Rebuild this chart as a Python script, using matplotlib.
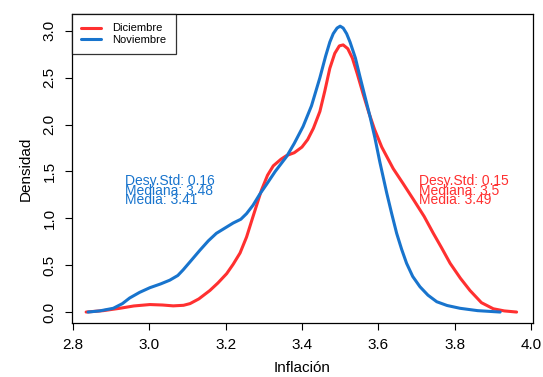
import matplotlib
matplotlib.use("Agg")
import matplotlib.pyplot as plt

plt.rcParams["font.family"] = ["Liberation Sans", "DejaVu Sans"]

# Densidades (inflacion, densidad)
dic_x = [2.835, 2.88, 2.923, 2.96, 3.002, 3.035, 3.063, 3.09, 3.107, 3.13, 3.159, 3.18,
         3.203, 3.22, 3.238, 3.255, 3.272, 3.294, 3.31, 3.325, 3.345, 3.36, 3.38,
         3.40, 3.415, 3.43, 3.447, 3.46, 3.473, 3.486, 3.498, 3.508, 3.52, 3.532,
         3.545, 3.56, 3.575, 3.59, 3.609, 3.622, 3.639, 3.665, 3.692, 3.72, 3.744,
         3.765, 3.788, 3.815, 3.84, 3.87, 3.901, 3.93, 3.962]
dic_y = [0.0, 0.015, 0.04, 0.065, 0.08, 0.075, 0.066, 0.072, 0.09, 0.14, 0.23, 0.31,
         0.41, 0.51, 0.63, 0.8, 1.02, 1.3, 1.46, 1.56, 1.63, 1.67, 1.70,
         1.76, 1.84, 1.96, 2.14, 2.36, 2.6, 2.76, 2.84, 2.85, 2.81, 2.71,
         2.54, 2.33, 2.13, 1.95, 1.76, 1.66, 1.53, 1.37, 1.2, 1.02, 0.84,
         0.69, 0.52, 0.36, 0.23, 0.1, 0.035, 0.012, 0.0]

nov_x = [2.84, 2.87, 2.906, 2.93, 2.949, 2.975, 3.002, 3.03, 3.054, 3.075, 3.089,
         3.11, 3.133, 3.155, 3.176, 3.2, 3.22, 3.24, 3.255, 3.272, 3.29, 3.307,
         3.33, 3.36, 3.38, 3.403, 3.425, 3.447, 3.462, 3.473, 3.482, 3.492, 3.50,
         3.508, 3.517, 3.526, 3.54, 3.552, 3.565, 3.578, 3.591, 3.604, 3.622, 3.635,
         3.648, 3.661, 3.674, 3.69, 3.709, 3.73, 3.753, 3.78, 3.814, 3.86, 3.919]
nov_y = [0.0, 0.012, 0.04, 0.09, 0.15, 0.21, 0.26, 0.3, 0.34, 0.39, 0.45,
         0.55, 0.66, 0.76, 0.84, 0.9, 0.95, 0.99, 1.05, 1.14, 1.26, 1.36,
         1.5, 1.66, 1.8, 1.98, 2.2, 2.5, 2.73, 2.88, 2.97, 3.03, 3.05,
         3.03, 2.97, 2.88, 2.71, 2.51, 2.3, 2.09, 1.86, 1.6, 1.27, 1.05,
         0.84, 0.67, 0.52, 0.38, 0.27, 0.18, 0.11, 0.07, 0.04, 0.015, 0.0]

series_names = ["Diciembre", "Noviembre"]
series_colors = ["#FF3030", "#1874CD"]
stats_dic = ["Desy.Std: 0.15", "Mediana: 3.5", "Media: 3.49"]
stats_nov = ["Desy.Std: 0.16", "Mediana: 3.48", "Media: 3.41"]
x_ticks = [2.8, 3.0, 3.2, 3.4, 3.6, 3.8, 4.0]
y_ticks = [0.0, 0.5, 1.0, 1.5, 2.0, 2.5, 3.0]

fig = plt.figure(figsize=(5.43, 3.77), dpi=100)
ax = fig.add_axes([0.1326, 0.1432, 0.849, 0.8197])

ax.plot(dic_x, dic_y, color=series_colors[0], lw=2.2, solid_joinstyle="round",
        solid_capstyle="round", label=series_names[0])
ax.plot(nov_x, nov_y, color=series_colors[1], lw=2.2, solid_joinstyle="round",
        solid_capstyle="round", label=series_names[1])

# estadisticos (las lineas se solapan como en el original)
line_y = [1.40, 1.295, 1.195]
for s, yy in zip(stats_nov, line_y):
    ax.text(2.936, yy, s, color=series_colors[1], fontsize=10, va="center", ha="left")
for s, yy in zip(stats_dic, line_y):
    ax.text(3.706, yy, s, color=series_colors[0], fontsize=10, va="center", ha="left")

ax.set_xlim(2.798, 4.005)
ax.set_ylim(-0.117, 3.18)
ax.set_xticks(x_ticks)
ax.set_xticklabels([f"{v:.1f}" for v in x_ticks])
ax.set_yticks(y_ticks)
ax.set_yticklabels([f"{v:.1f}" for v in y_ticks], rotation=90, va="center")
ax.tick_params(direction="out", length=5, width=0.8, labelsize=11, colors="black")
ax.tick_params(axis="x", pad=6)
ax.tick_params(axis="y", pad=6)
for sp in ax.spines.values():
    sp.set_linewidth(0.9)
    sp.set_color("black")

ax.set_xlabel("Inflación", fontsize=11, labelpad=6)
ax.set_ylabel("Densidad", fontsize=11, labelpad=7)

leg = ax.legend(loc="upper left", bbox_to_anchor=(0.0, 1.0), fontsize=8,
                frameon=True, fancybox=False, handlelength=1.8, handletextpad=1.0,
                borderpad=0.85, labelspacing=0.1, borderaxespad=0.0)
leg.get_frame().set_edgecolor("black")
leg.get_frame().set_linewidth(0.9)

fig.savefig("out.png", dpi=100)
